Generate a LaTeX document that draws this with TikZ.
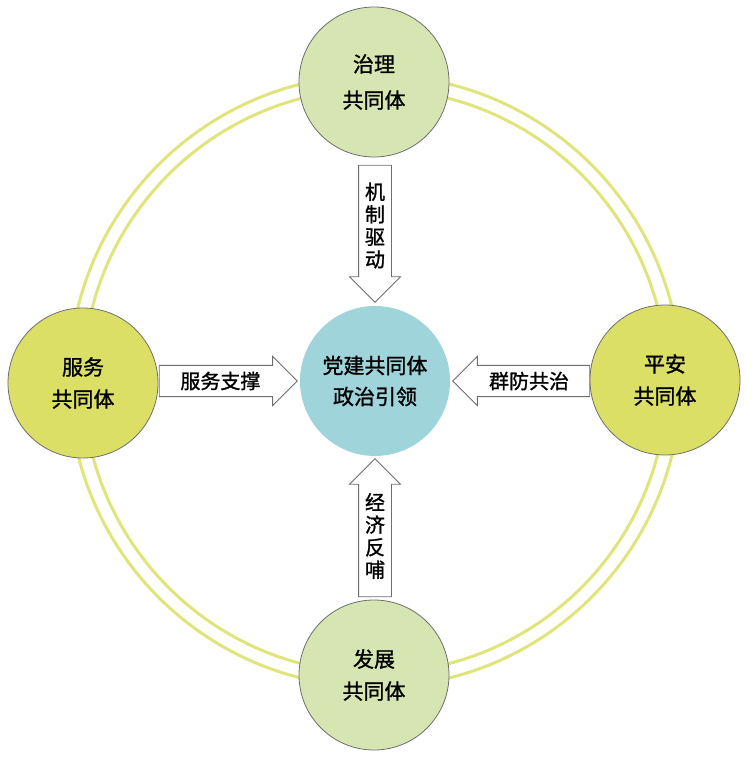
\documentclass[tikz,border=0pt]{standalone}
\usepackage{fontspec}
\newfontfamily\cjk[FakeBold=1.2,AutoFakeBold=1.2]{Noto Sans CJK SC}
\usetikzlibrary{shapes.arrows}
\definecolor{ringYellow}{HTML}{DFE57A}
\definecolor{commGreen}{HTML}{D6E5B2}
\definecolor{commYellow}{HTML}{DCDF66}
\definecolor{hubTeal}{HTML}{9ED4DA}
\definecolor{edgeGray}{HTML}{6E6E6E}
\tikzset{
  ring/.style={ringYellow, line width=3pt},
  commcircle/.style={circle, draw=edgeGray, line width=0.8pt, minimum size=150pt, inner sep=0pt, align=center},
  commfont/.style={font={\cjk\fontsize{21}{32}\selectfont}},
  blockarr/.style={single arrow, draw=edgeGray, fill=white, line width=0.8pt, inner sep=6pt,
    single arrow head extend=9pt, single arrow tip angle=90, align=center,
    font={\cjk\fontsize{20}{22.5}\selectfont}}
}

\begin{document}
\begin{tikzpicture}[x=1pt,y=-1pt]
\useasboundingbox (0,0) rectangle (755,763);
% centre
\node[circle, fill=hubTeal, minimum size=150pt, inner sep=0pt, align=center, font={\cjk\fontsize{21}{31}\selectfont}] (hub) at (375,381) {党建共同体\\政治引领};
% outer double ring
\draw[ring] (hub.center) circle[radius=292pt];
\draw[ring] (hub.center) circle[radius=306pt];
% the four communities
\node[commcircle, fill=commGreen, font={\cjk\fontsize{21}{36}\selectfont}] (gov) at (374,82) {治理\\共同体};
\node[commcircle, fill=commYellow, commfont] (serv) at (83,383) {服务\\共同体};
\node[commcircle, fill=commYellow, commfont] (safe) at (665,380) {平安\\共同体};
\node[commcircle, fill=commGreen, commfont] (dev) at (374,675) {发展\\共同体};
% arrows into the centre
\node[blockarr, shape border rotate=270, minimum height=137pt, anchor=tip] (mech) at ([yshift=3pt]hub.north) {机\\制\\驱\\动};
\node[blockarr, shape border rotate=90, minimum height=138pt, anchor=tip] (econ) at ([yshift=-2pt]hub.south) {经\\济\\反\\哺};
\node[blockarr, shape border rotate=0, minimum height=138pt, anchor=tip] (supp) at ([xshift=-2pt]hub.west) {服务支撑};
\node[blockarr, shape border rotate=180, minimum height=137pt, anchor=tip] (joint) at ([xshift=2pt]hub.east) {群防共治};
\end{tikzpicture}
\end{document}
